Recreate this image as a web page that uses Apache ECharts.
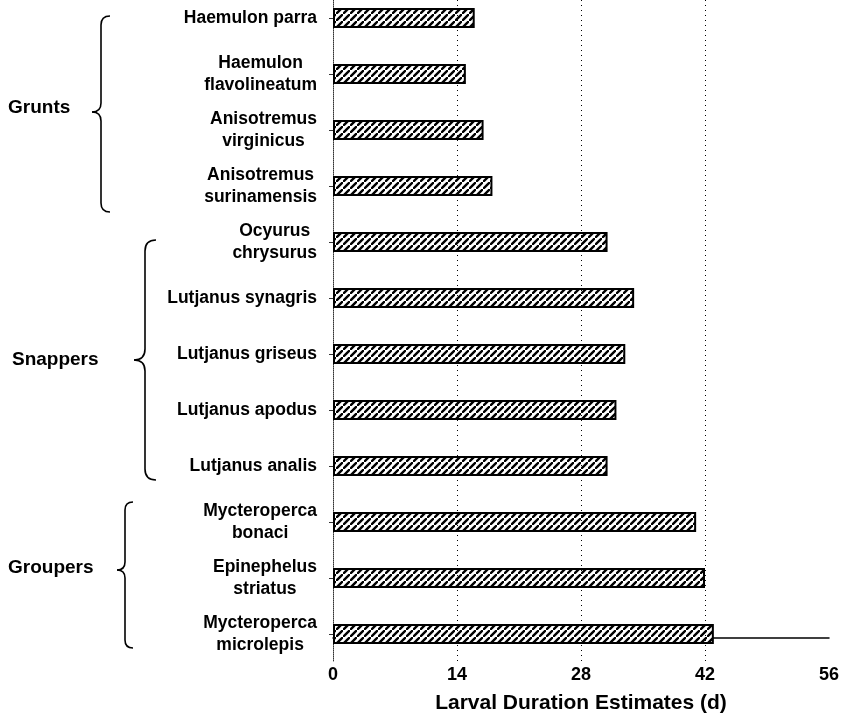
<!DOCTYPE html>
<html>
<head>
<meta charset="utf-8">
<script src="https://cdn.jsdelivr.net/npm/echarts@6/dist/echarts.min.js"></script>
<style>
  html, body { margin: 0; padding: 0; background: #fff; }
  #chart { width: 849px; height: 722px; }
</style>
</head>
<body>
<div id="chart"></div>
<script>
const species = [
  "Haemulon parra",
  "Haemulon\nflavolineatum",
  "Anisotremus\nvirginicus",
  "Anisotremus\nsurinamensis",
  "Ocyurus\nchrysurus",
  "Lutjanus synagris",
  "Lutjanus griseus",
  "Lutjanus apodus",
  "Lutjanus analis",
  "Mycteroperca\nbonaci",
  "Epinephelus\nstriatus",
  "Mycteroperca\nmicrolepis"
];
const durations = [16, 15, 17, 18, 31, 34, 33, 32, 31, 41, 42, 43];
const gridValues = [14, 28, 42];
const groups = ["Grunts", "Snappers", "Groupers"];

const FONT = "'Liberation Sans', Arial, sans-serif";

// diagonal hatch tile for the bars
function hatchPattern() {
  const s = 7;
  const c = document.createElement("canvas");
  c.width = s;
  c.height = s;
  const ctx = c.getContext("2d");
  ctx.fillStyle = "#fff";
  ctx.fillRect(0, 0, s, s);
  ctx.strokeStyle = "#000";
  ctx.lineWidth = 2.4;
  ctx.beginPath();
  ctx.moveTo(-1, s + 1); ctx.lineTo(s + 1, -1);
  ctx.moveTo(-s - 1, 1); ctx.lineTo(1, -s - 1);
  ctx.moveTo(s - 1, 2 * s + 1); ctx.lineTo(2 * s + 1, s - 1);
  ctx.stroke();
  return c;
}

// curly brace built from curves and lines
function brace(x, y0, ym, y1, r) {
  const st = { stroke: "#000", lineWidth: 1.6, fill: null };
  return [
    { type: "bezierCurve", shape: { x1: x + r, y1: y0, x2: x, y2: y0 + r, cpx1: x, cpy1: y0 }, style: st },
    { type: "line", shape: { x1: x, y1: y0 + r, x2: x, y2: ym - r }, style: st },
    { type: "bezierCurve", shape: { x1: x, y1: ym - r, x2: x - r, y2: ym, cpx1: x, cpy1: ym }, style: st },
    { type: "bezierCurve", shape: { x1: x - r, y1: ym, x2: x, y2: ym + r, cpx1: x, cpy1: ym }, style: st },
    { type: "line", shape: { x1: x, y1: ym + r, x2: x, y2: y1 - r }, style: st },
    { type: "bezierCurve", shape: { x1: x, y1: y1 - r, x2: x + r, y2: y1, cpx1: x, cpy1: y1 }, style: st }
  ];
}

const groupText = (text, x, y) => ({
  type: "text",
  left: x,
  top: y,
  style: { text: text, font: "bold 19px " + FONT, fill: "#000" }
});

const chart = echarts.init(document.getElementById("chart"), null, { renderer: "canvas" });

chart.setOption({
  animation: false,
  backgroundColor: "#fff",
  grid: { left: 333, right: 20, top: -10, bottom: 60, containLabel: false, outerBoundsMode: "none" },
  xAxis: {
    type: "value",
    min: 0,
    max: 56,
    interval: 14,
    offset: -24,
    axisLine: { show: true, lineStyle: { color: "#000", width: 1.5 } },
    axisTick: { show: false },
    splitLine: { show: false },
    axisLabel: {
      margin: 28,
      color: "#000",
      fontFamily: FONT,
      fontWeight: "bold",
      fontSize: 18
    },
    name: "Larval Duration Estimates (d)",
    nameLocation: "middle",
    nameGap: 55,
    nameTextStyle: { color: "#000", fontFamily: FONT, fontWeight: "bold", fontSize: 21 }
  },
  yAxis: {
    type: "category",
    inverse: true,
    data: species,
    axisLine: { show: true, lineStyle: { color: "#333", width: 1, type: "dotted" } },
    axisTick: { show: true, length: 4, alignWithLabel: true, lineStyle: { color: "#333" } },
    splitLine: { show: false },
    axisLabel: {
      margin: 16,
      color: "#000",
      formatter: v => v.split("\n").map(s => "{c|" + s + "}").join("\n"),
      rich: {
        c: {
          align: "center",
          fontFamily: FONT,
          fontWeight: "bold",
          fontSize: 17.5,
          lineHeight: 22,
          color: "#000"
        }
      }
    }
  },
  series: [{
    type: "bar",
    data: durations,
    barWidth: 20,
    itemStyle: {
      color: { image: hatchPattern(), repeat: "repeat" },
      borderColor: "#000",
      borderWidth: 2
    },
    markLine: {
      silent: true,
      symbol: "none",
      label: { show: false },
      lineStyle: { color: "#000", type: [1, 4], width: 1 },
      data: gridValues.map(v => ({ xAxis: v }))
    }
  }],
  graphic: [
    groupText(groups[0], 8, 98),
    groupText(groups[1], 12, 350),
    groupText(groups[2], 8, 558),
    ...brace(101, 16, 112, 212, 9),
    ...brace(145, 240, 360, 480, 11),
    ...brace(125, 502, 570, 648, 8)
  ]
});
</script>
</body>
</html>
